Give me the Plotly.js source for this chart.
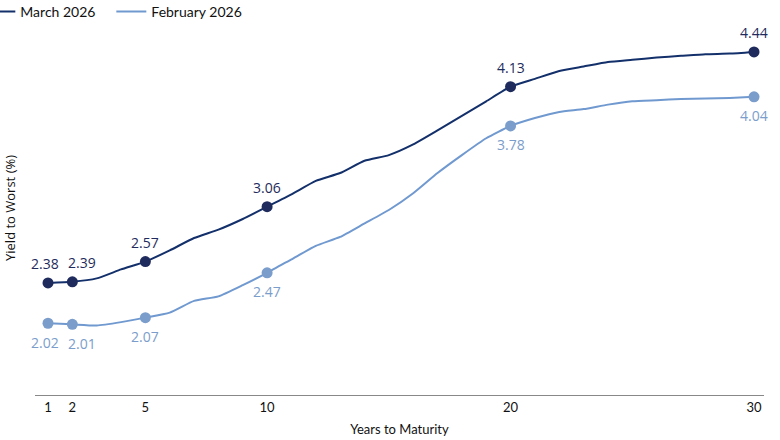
<!DOCTYPE html>
<html>
<head>
<meta charset="utf-8">
<script src="https://cdn.plot.ly/plotly-3.0.1.min.js"></script>
<style>
  html, body { margin: 0; padding: 0; background: #fff; }
  #chart { width: 780px; height: 440px; }
</style>
</head>
<body>
<div id="chart"></div>
<script>
// years to maturity, 1..30
const years = [1, 2, 3, 4, 5, 6, 7, 8, 9, 10, 11, 12, 13, 14, 15, 16, 17, 18, 19, 20, 21, 22, 23, 24, 25, 26, 27, 28, 29, 30];

const marchYields = [2.38, 2.39, 2.42, 2.50, 2.57, 2.67, 2.78, 2.855, 2.95, 3.06,
    3.17, 3.29, 3.36, 3.47, 3.52, 3.615, 3.74, 3.87, 4.00, 4.13,
    4.20, 4.27, 4.31, 4.35, 4.37, 4.39, 4.405, 4.42, 4.425, 4.44];

const febYields = [2.02, 2.01, 2.00, 2.03, 2.07, 2.115, 2.22, 2.26, 2.36, 2.47,
    2.59, 2.71, 2.79, 2.91, 3.03, 3.18, 3.36, 3.52, 3.67, 3.78,
    3.85, 3.905, 3.93, 3.97, 4.00, 4.01, 4.02, 4.025, 4.03, 4.04];

// points that get a marker and a value label
const labelledYears = [1, 2, 5, 10, 20, 30];
const tickYears = [1, 2, 5, 10, 20, 30];

const seriesNames = ['March 2026', 'February 2026'];

const DARK = '#13306b';
const DARK_MARK = '#1f2b5c';
const LIGHT = '#7099d0';
const LIGHT_MARK = '#7b9dcb';

// small nudges so the 1y and 2y labels don't collide
const labelNudge = [-3, 10, 0, 0, 0, 0];

function pick(vals) {
    return labelledYears.map(y => vals[years.indexOf(y)]);
}

function lineTrace(vals, name, color) {
    return {
        x: years, y: vals, name,
        type: 'scatter', mode: 'lines',
        line: { color, width: 2, shape: 'spline', smoothing: 0.5 },
        hoverinfo: 'skip'
    };
}

function markerTrace(vals, color) {
    return {
        x: labelledYears, y: pick(vals),
        type: 'scatter', mode: 'markers',
        marker: { color, size: 11 },
        showlegend: false,
        hoverinfo: 'skip',
        cliponaxis: false
    };
}

function valueLabels(vals, color, yshift) {
    return pick(vals).map((v, i) => ({
        x: labelledYears[i], y: v,
        xref: 'x', yref: 'y',
        text: v.toFixed(2),
        showarrow: false,
        xanchor: 'center', yanchor: 'middle',
        xshift: labelNudge[i], yshift,
        font: { family: 'Open Sans', size: 14, color }
    }));
}

const traces = [
    lineTrace(marchYields, seriesNames[0], DARK),
    lineTrace(febYields, seriesNames[1], LIGHT),
    markerTrace(marchYields, DARK_MARK),
    markerTrace(febYields, LIGHT_MARK)
];

const layout = {
    width: 780,
    height: 440,
    margin: { l: 35, r: 16, t: 34, b: 45, autoexpand: false },
    paper_bgcolor: '#fff',
    plot_bgcolor: '#fff',
    font: { family: 'Lato', size: 13, color: '#111' },
    showlegend: true,
    legend: {
        orientation: 'h',
        x: -0.075, y: 1.061,
        xanchor: 'left', yanchor: 'middle',
        font: { family: 'Lato', size: 14, color: '#111' },
        itemwidth: 30,
        entrywidth: 86,
        entrywidthmode: 'pixels'
    },
    xaxis: {
        range: [0.466, 30.41],
        tickvals: tickYears,
        ticktext: tickYears.map(String),
        showgrid: false,
        zeroline: false,
        showline: true,
        linecolor: '#888',
        linewidth: 1,
        ticks: '',
        tickfont: { family: 'Lato', size: 13, color: '#111' },
        title: { text: 'Years to Maturity', font: { family: 'Lato', size: 13, color: '#111' }, standoff: 11 }
    },
    yaxis: {
        range: [1.38, 4.60],
        showgrid: false,
        zeroline: false,
        showline: false,
        showticklabels: false,
        ticks: ''
    },
    annotations: [
        ...valueLabels(marchYields, DARK_MARK, 19),
        ...valueLabels(febYields, LIGHT_MARK, -19),
        {
            text: 'Yield to Worst (%)',
            xref: 'paper', yref: 'paper',
            x: -25 / 729, y: 0.518,
            xanchor: 'center', yanchor: 'middle',
            textangle: -90,
            showarrow: false,
            font: { family: 'Open Sans', size: 13, color: '#111' }
        }
    ]
};

Plotly.newPlot('chart', traces, layout, { displayModeBar: false, staticPlot: true });
</script>
</body>
</html>
